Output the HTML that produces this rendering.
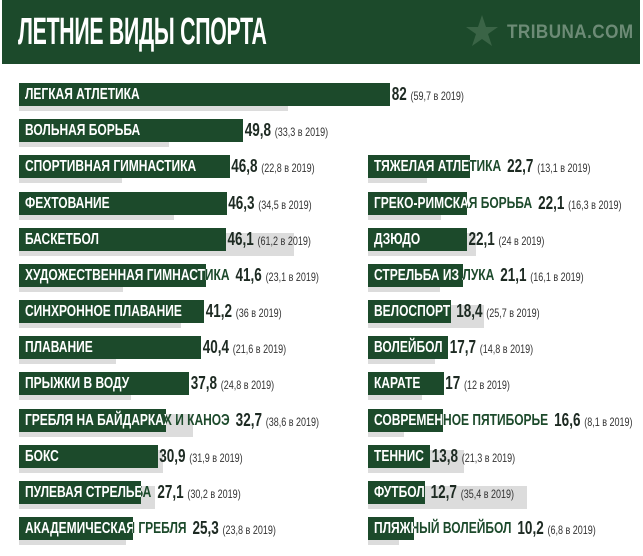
<!DOCTYPE html>
<html><head><meta charset="utf-8"><style>
body{margin:0;width:643px;height:556px;background:#fff;overflow:hidden;position:relative;font-family:"Liberation Sans",sans-serif;}
.hd{position:absolute;left:2px;top:0;width:638px;height:64px;background:#1c4a2b;}
.tt{position:absolute;left:16px;top:11px;color:#fff;font-weight:bold;font-size:38px;transform:scaleX(0.56);transform-origin:left top;white-space:nowrap;letter-spacing:-0.5px}
.tr{position:absolute;left:505px;top:22px;color:#6d8b76;font-weight:bold;font-size:19px;letter-spacing:0.5px;transform:scaleX(0.9);transform-origin:left top}
.r{position:absolute;height:23px;white-space:nowrap}
.g{position:absolute;left:0;top:5px;height:23px;background:#dcdcdc}
.b{position:absolute;left:0;top:0;height:23px;background:#1c4a2b;overflow:hidden;z-index:2}
.in{transform:scaleX(0.75);transform-origin:left top;white-space:nowrap}
.t{position:absolute;left:0;top:0;display:flex;align-items:center;height:23px;transform:scaleX(0.75);transform-origin:left top;z-index:1}
.in span,.lab{display:inline-block;padding-left:8px;font-weight:bold;font-size:16px;line-height:23px}
.in span{color:#fff}
.lab{color:#1c4a2b;box-sizing:border-box;padding-right:6px}
.v{position:relative;z-index:3;font-weight:bold;font-size:18px;color:#1d2a22;padding-left:2px}
.v small{font-weight:normal;font-size:12px;color:#333}
</style></head><body>
<div class="hd"><div class="tt">ЛЕТНИЕ ВИДЫ СПОРТА</div>
<svg style="position:absolute;left:463px;top:14px" width="34" height="34" viewBox="0 0 34 34"><polygon points="17,1 21,13 33,13 23,20 27,32 17,25 7,32 11,20 1,13 13,13" fill="#3a6446"/></svg>
<div class="tr">TRIBUNA.COM</div></div>

<div class="r" style="left:19px;top:83px"><div class="g" style="width:269px"></div><div class="b" style="width:371px"><div class="in"><span>ЛЕГКАЯ АТЛЕТИКА</span></div></div><div class="t"><span class="lab" style="min-width:495px">ЛЕГКАЯ АТЛЕТИКА</span><span class="v">82 <small>(59,7 в 2019)</small></span></div></div>
<div class="r" style="left:19px;top:119px"><div class="g" style="width:150px"></div><div class="b" style="width:224px"><div class="in"><span>ВОЛЬНАЯ БОРЬБА</span></div></div><div class="t"><span class="lab" style="min-width:299px">ВОЛЬНАЯ БОРЬБА</span><span class="v">49,8 <small>(33,3 в 2019)</small></span></div></div>
<div class="r" style="left:19px;top:155px"><div class="g" style="width:103px"></div><div class="b" style="width:211px"><div class="in"><span>СПОРТИВНАЯ ГИМНАСТИКА</span></div></div><div class="t"><span class="lab" style="min-width:281px">СПОРТИВНАЯ ГИМНАСТИКА</span><span class="v">46,8 <small>(22,8 в 2019)</small></span></div></div>
<div class="r" style="left:19px;top:192px"><div class="g" style="width:155px"></div><div class="b" style="width:208px"><div class="in"><span>ФЕХТОВАНИЕ</span></div></div><div class="t"><span class="lab" style="min-width:277px">ФЕХТОВАНИЕ</span><span class="v">46,3 <small>(34,5 в 2019)</small></span></div></div>
<div class="r" style="left:19px;top:228px"><div class="g" style="width:275px"></div><div class="b" style="width:207px"><div class="in"><span>БАСКЕТБОЛ</span></div></div><div class="t"><span class="lab" style="min-width:276px">БАСКЕТБОЛ</span><span class="v">46,1 <small>(61,2 в 2019)</small></span></div></div>
<div class="r" style="left:19px;top:264px"><div class="g" style="width:104px"></div><div class="b" style="width:187px"><div class="in"><span>ХУДОЖЕСТВЕННАЯ ГИМНАСТИКА</span></div></div><div class="t"><span class="lab" style="min-width:249px">ХУДОЖЕСТВЕННАЯ ГИМНАСТИКА</span><span class="v">41,6 <small>(23,1 в 2019)</small></span></div></div>
<div class="r" style="left:19px;top:300px"><div class="g" style="width:162px"></div><div class="b" style="width:185px"><div class="in"><span>СИНХРОННОЕ ПЛАВАНИЕ</span></div></div><div class="t"><span class="lab" style="min-width:247px">СИНХРОННОЕ ПЛАВАНИЕ</span><span class="v">41,2 <small>(36 в 2019)</small></span></div></div>
<div class="r" style="left:19px;top:336px"><div class="g" style="width:97px"></div><div class="b" style="width:182px"><div class="in"><span>ПЛАВАНИЕ</span></div></div><div class="t"><span class="lab" style="min-width:243px">ПЛАВАНИЕ</span><span class="v">40,4 <small>(21,6 в 2019)</small></span></div></div>
<div class="r" style="left:19px;top:372px"><div class="g" style="width:112px"></div><div class="b" style="width:170px"><div class="in"><span>ПРЫЖКИ В ВОДУ</span></div></div><div class="t"><span class="lab" style="min-width:227px">ПРЫЖКИ В ВОДУ</span><span class="v">37,8 <small>(24,8 в 2019)</small></span></div></div>
<div class="r" style="left:19px;top:409px"><div class="g" style="width:174px"></div><div class="b" style="width:147px"><div class="in"><span>ГРЕБЛЯ НА БАЙДАРКАХ И КАНОЭ</span></div></div><div class="t"><span class="lab" style="min-width:196px">ГРЕБЛЯ НА БАЙДАРКАХ И КАНОЭ</span><span class="v">32,7 <small>(38,6 в 2019)</small></span></div></div>
<div class="r" style="left:19px;top:445px"><div class="g" style="width:144px"></div><div class="b" style="width:139px"><div class="in"><span>БОКС</span></div></div><div class="t"><span class="lab" style="min-width:185px">БОКС</span><span class="v">30,9 <small>(31,9 в 2019)</small></span></div></div>
<div class="r" style="left:19px;top:481px"><div class="g" style="width:136px"></div><div class="b" style="width:122px"><div class="in"><span>ПУЛЕВАЯ СТРЕЛЬБА</span></div></div><div class="t"><span class="lab" style="min-width:163px">ПУЛЕВАЯ СТРЕЛЬБА</span><span class="v">27,1 <small>(30,2 в 2019)</small></span></div></div>
<div class="r" style="left:19px;top:517px"><div class="g" style="width:107px"></div><div class="b" style="width:114px"><div class="in"><span>АКАДЕМИЧЕСКАЯ ГРЕБЛЯ</span></div></div><div class="t"><span class="lab" style="min-width:152px">АКАДЕМИЧЕСКАЯ ГРЕБЛЯ</span><span class="v">25,3 <small>(23,8 в 2019)</small></span></div></div>

<div class="r" style="left:368px;top:155px"><div class="g" style="width:59px"></div><div class="b" style="width:102px"><div class="in"><span>ТЯЖЕЛАЯ АТЛЕТИКА</span></div></div><div class="t"><span class="lab" style="min-width:136px">ТЯЖЕЛАЯ АТЛЕТИКА</span><span class="v">22,7 <small>(13,1 в 2019)</small></span></div></div>
<div class="r" style="left:368px;top:192px"><div class="g" style="width:73px"></div><div class="b" style="width:99px"><div class="in"><span>ГРЕКО-РИМСКАЯ БОРЬБА</span></div></div><div class="t"><span class="lab" style="min-width:132px">ГРЕКО-РИМСКАЯ БОРЬБА</span><span class="v">22,1 <small>(16,3 в 2019)</small></span></div></div>
<div class="r" style="left:368px;top:228px"><div class="g" style="width:108px"></div><div class="b" style="width:99px"><div class="in"><span>ДЗЮДО</span></div></div><div class="t"><span class="lab" style="min-width:132px">ДЗЮДО</span><span class="v">22,1 <small>(24 в 2019)</small></span></div></div>
<div class="r" style="left:368px;top:264px"><div class="g" style="width:72px"></div><div class="b" style="width:95px"><div class="in"><span>СТРЕЛЬБА ИЗ ЛУКА</span></div></div><div class="t"><span class="lab" style="min-width:127px">СТРЕЛЬБА ИЗ ЛУКА</span><span class="v">21,1 <small>(16,1 в 2019)</small></span></div></div>
<div class="r" style="left:368px;top:300px"><div class="g" style="width:116px"></div><div class="b" style="width:83px"><div class="in"><span>ВЕЛОСПОРТ</span></div></div><div class="t"><span class="lab" style="min-width:111px">ВЕЛОСПОРТ</span><span class="v">18,4 <small>(25,7 в 2019)</small></span></div></div>
<div class="r" style="left:368px;top:336px"><div class="g" style="width:67px"></div><div class="b" style="width:80px"><div class="in"><span>ВОЛЕЙБОЛ</span></div></div><div class="t"><span class="lab" style="min-width:107px">ВОЛЕЙБОЛ</span><span class="v">17,7 <small>(14,8 в 2019)</small></span></div></div>
<div class="r" style="left:368px;top:372px"><div class="g" style="width:54px"></div><div class="b" style="width:76px"><div class="in"><span>КАРАТЕ</span></div></div><div class="t"><span class="lab" style="min-width:101px">КАРАТЕ</span><span class="v">17 <small>(12 в 2019)</small></span></div></div>
<div class="r" style="left:368px;top:409px"><div class="g" style="width:36px"></div><div class="b" style="width:75px"><div class="in"><span>СОВРЕМЕННОЕ ПЯТИБОРЬЕ</span></div></div><div class="t"><span class="lab" style="min-width:100px">СОВРЕМЕННОЕ ПЯТИБОРЬЕ</span><span class="v">16,6 <small>(8,1 в 2019)</small></span></div></div>
<div class="r" style="left:368px;top:445px"><div class="g" style="width:96px"></div><div class="b" style="width:62px"><div class="in"><span>ТЕННИС</span></div></div><div class="t"><span class="lab" style="min-width:83px">ТЕННИС</span><span class="v">13,8 <small>(21,3 в 2019)</small></span></div></div>
<div class="r" style="left:368px;top:481px"><div class="g" style="width:159px"></div><div class="b" style="width:57px"><div class="in"><span>ФУТБОЛ</span></div></div><div class="t"><span class="lab" style="min-width:76px">ФУТБОЛ</span><span class="v">12,7 <small>(35,4 в 2019)</small></span></div></div>
<div class="r" style="left:368px;top:517px"><div class="g" style="width:31px"></div><div class="b" style="width:46px"><div class="in"><span>ПЛЯЖНЫЙ ВОЛЕЙБОЛ</span></div></div><div class="t"><span class="lab" style="min-width:61px">ПЛЯЖНЫЙ ВОЛЕЙБОЛ</span><span class="v">10,2 <small>(6,8 в 2019)</small></span></div></div>
</body></html>
